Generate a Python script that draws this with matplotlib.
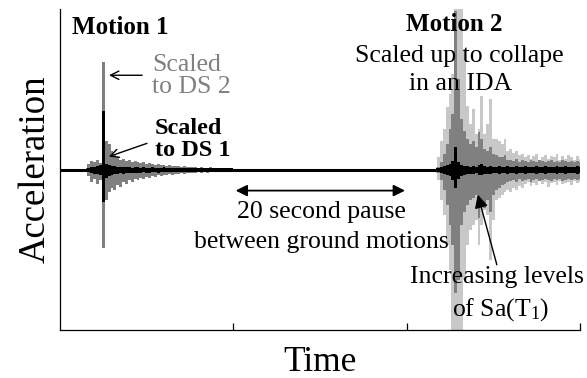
import numpy as np
import matplotlib
matplotlib.use("Agg")
import matplotlib.pyplot as plt

plt.rcParams['font.family'] = ['Liberation Serif', 'DejaVu Serif']
plt.rcParams['mathtext.fontset'] = 'custom'
plt.rcParams['mathtext.rm'] = 'Liberation Serif'
plt.rcParams['mathtext.it'] = 'Liberation Serif:italic'

# sampling of the envelope records (s)
dt = 0.5

# motion 1, starts at 4.5 s
m1_start = 4.5
m1_ds2_hi = [0.02, 0.06, 0.09, 0.08, 0.10, 0.07, 1.07, 0.28, 0.25, 0.18, 0.14, 0.12, 0.10,
             0.11, 0.09, 0.10, 0.08, 0.09, 0.08, 0.07, 0.08, 0.06, 0.07, 0.06, 0.05, 0.06,
             0.05, 0.05, 0.04, 0.05, 0.04, 0.04, 0.04, 0.03, 0.04, 0.03, 0.03,
             0.03, 0.03, 0.02, 0.03, 0.02, 0.02, 0.03, 0.02, 0.02, 0.02, 0.02, 0.02, 0.02,
             0.02, 0.01]
m1_ds2_lo = [-0.02, -0.06, -0.12, -0.09, -0.14, -0.10, -0.78, -0.30, -0.22, -0.18, -0.20,
             -0.15, -0.17, -0.12, -0.14, -0.10, -0.12, -0.09, -0.10, -0.08, -0.09, -0.07,
             -0.08, -0.06, -0.07, -0.05, -0.06, -0.05, -0.05, -0.04, -0.05, -0.04, -0.04,
             -0.03, -0.04, -0.03, -0.03,
             -0.03, -0.03, -0.02, -0.03, -0.02, -0.03, -0.02, -0.02, -0.02, -0.02, -0.02,
             -0.02, -0.02, -0.01, -0.01]
m1_ds1_hi = [0.01, 0.02, 0.03, 0.03, 0.04, 0.05, 0.58, 0.06, 0.05, 0.04, 0.04, 0.03,
             0.03, 0.03, 0.03, 0.03, 0.02, 0.03, 0.03, 0.02, 0.03, 0.02, 0.02, 0.03, 0.02,
             0.02, 0.02, 0.03, 0.02, 0.02, 0.02, 0.02, 0.02, 0.02, 0.02, 0.02, 0.02, 0.02,
             0.02, 0.02, 0.02, 0.02, 0.02, 0.02, 0.02, 0.02, 0.02, 0.02, 0.02, 0.02, 0.02,
             0.02]
m1_ds1_lo = [-0.01, -0.02, -0.03, -0.04, -0.04, -0.05, -0.32, -0.08, -0.06, -0.05, -0.04,
             -0.04, -0.03, -0.04, -0.03, -0.03, -0.03, -0.03, -0.03, -0.03, -0.02, -0.03,
             -0.03, -0.02, -0.02, -0.03, -0.02, -0.02, -0.02, -0.02, -0.02, -0.02, -0.02,
             -0.02, -0.02, -0.02, -0.02, -0.02, -0.02, -0.02, -0.02, -0.02, -0.02, -0.02,
             -0.02, -0.02, -0.02, -0.02, -0.02, -0.02, -0.02, -0.02]

# motion 2 (IDA), starts at 65 s
m2_start = 65.0
m2_high_hi = [0.03, 0.12, 0.28, 0.40, 0.62, 0.75, 0.95, 1.65, 1.65, 1.65, 1.20, 0.63, 0.45,
              0.60, 0.35, 0.40, 0.73, 0.35, 0.45, 0.70, 0.30, 0.30, 0.28, 0.25, 0.30, 0.18,
              0.20, 0.16, 0.18, 0.14, 0.15,
              0.12, 0.14, 0.11, 0.13, 0.15, 0.10, 0.12, 0.14, 0.11, 0.13, 0.12, 0.15, 0.10,
              0.13, 0.11, 0.14, 0.12, 0.10, 0.13, 0.11]
m2_high_lo = [-0.03, -0.10, -0.30, -0.45, -0.75, -1.00, -1.65, -1.65, -1.65, -1.65, -1.10,
              -0.75, -0.60, -0.55, -0.50, -0.75, -0.55, -0.40, -0.45, -0.90, -0.50, -0.30,
              -0.28, -0.25, -0.22, -0.20, -0.22, -0.18, -0.20, -0.16, -0.18,
              -0.14, -0.12, -0.16, -0.13, -0.15, -0.11, -0.14, -0.12, -0.17, -0.13, -0.12,
              -0.15, -0.11, -0.14, -0.13, -0.12, -0.15, -0.11, -0.13, -0.12]
m2_mid_hi = [0.00, 0.03, 0.08, 0.15, 0.25, 0.40, 0.55, 1.58, 0.90, 0.50, 0.38, 0.30, 0.25,
             0.28, 0.22, 0.37, 0.30, 0.20, 0.18, 0.22, 0.15, 0.14, 0.12, 0.12, 0.14, 0.10,
             0.10, 0.09, 0.11, 0.08, 0.10, 0.09, 0.08, 0.10, 0.09, 0.08, 0.10, 0.09, 0.08,
             0.09, 0.10, 0.08, 0.09, 0.08, 0.10, 0.09, 0.08, 0.09, 0.08, 0.09, 0.08]
m2_mid_lo = [0.00, -0.03, -0.10, -0.20, -0.35, -0.55, -0.75, -1.23, -1.10, -0.55, -0.42,
             -0.35, -0.30, -0.28, -0.25, -0.48, -0.30, -0.38, -0.30, -0.42, -0.25, -0.20,
             -0.18, -0.15, -0.14, -0.12,
             -0.11, -0.10, -0.12, -0.09, -0.11, -0.10, -0.09, -0.12, -0.10, -0.09, -0.11,
             -0.10, -0.09, -0.10, -0.11, -0.09, -0.10, -0.09, -0.11, -0.10, -0.09, -0.10,
             -0.09, -0.10, -0.09]
m2_low_hi = [0.02, 0.02, 0.03, 0.04, 0.05, 0.06, 0.09, 0.22, 0.08, 0.05, 0.04, 0.04, 0.03,
             0.04, 0.03, 0.05, 0.06, 0.04, 0.03, 0.04, 0.03,
             0.03, 0.04, 0.03, 0.03, 0.04, 0.03, 0.03, 0.04, 0.03, 0.03, 0.04, 0.03, 0.03,
             0.03, 0.04, 0.03, 0.03, 0.04, 0.03, 0.03, 0.03, 0.04, 0.03, 0.03, 0.04, 0.03,
             0.03, 0.03, 0.04, 0.03]
m2_low_lo = [-0.02, -0.02, -0.03, -0.04, -0.05, -0.06, -0.10, -0.18, -0.09, -0.06, -0.05,
             -0.04, -0.04, -0.04, -0.03, -0.05, -0.05, -0.04, -0.04, -0.04, -0.03,
             -0.03, -0.04, -0.03, -0.03, -0.04, -0.03, -0.03, -0.04, -0.03, -0.03, -0.04,
             -0.03, -0.03, -0.03, -0.04, -0.03, -0.03, -0.04, -0.03, -0.03, -0.03, -0.04,
             -0.03, -0.03, -0.04, -0.03, -0.03, -0.03, -0.04, -0.03]

t_end = 90
time_ticks = [30, 60, 90]

light = '#c8c8c8'
gray = '#808080'


def envelope(ax, start, hi, lo, color):
    t = start + dt * np.arange(len(hi))
    ax.fill_between(t, lo, hi, step='mid', color=color, lw=0)


fig = plt.figure(figsize=(5.87, 3.78), dpi=100)
ax = fig.add_axes([0.1022, 0.127, 0.886, 0.849])

envelope(ax, m1_start, m1_ds2_hi, m1_ds2_lo, gray)
envelope(ax, m1_start, m1_ds1_hi, m1_ds1_lo, 'black')
envelope(ax, m2_start, m2_high_hi, m2_high_lo, light)
envelope(ax, m2_start, m2_mid_hi, m2_mid_lo, gray)
envelope(ax, m2_start, m2_low_hi, m2_low_lo, 'black')
ax.axhline(0, color='black', lw=2.2)

ax.set_xlim(0, t_end)
ax.set_ylim(-1.6, 1.6)
ax.set_xticks(time_ticks)
ax.set_xticklabels([])
ax.set_yticks([])
ax.tick_params(axis='x', direction='in', length=5, width=0.9)
for s in ['top', 'right']:
    ax.spines[s].set_visible(False)
for s in ['left', 'bottom']:
    ax.spines[s].set_linewidth(0.9)

ax.set_xlabel('Time', fontsize=25.5, labelpad=8)
ax.set_ylabel('Acceleration', fontsize=26.5, labelpad=5)

# motion 1 labels
ax.text(2.1, 1.35, 'Motion 1', fontsize=18, fontweight='bold', va='baseline')
ax.text(15.9, 0.93, 'Scaled\nto DS 2', fontsize=18.5, color=gray, va='center',
        linespacing=1.0)
ax.text(16.4, 0.30, 'Scaled\nto DS 1', fontsize=17.5, fontweight='bold', va='center',
        linespacing=1.05)
ax.annotate('', xy=(8.0, 0.94), xytext=(14.7, 0.94),
            arrowprops=dict(arrowstyle='->', color='black', lw=1.0,
                            mutation_scale=15))
ax.annotate('', xy=(8.0, 0.12), xytext=(15.5, 0.27),
            arrowprops=dict(arrowstyle='->', color='black', lw=1.0,
                            mutation_scale=15))

# pause between the records
ax.annotate('', xy=(30.4, -0.21), xytext=(59.7, -0.21),
            arrowprops=dict(arrowstyle='<|-|>', color='black', lw=1.3,
                            mutation_scale=17, shrinkA=0, shrinkB=0))
ax.text(45.2, -0.42, '20 second pause', fontsize=18.5, ha='center', va='center')
ax.text(45.2, -0.72, 'between ground motions', fontsize=18.5, ha='center', va='center')

# motion 2 labels
ax.text(68.2, 1.45, 'Motion 2', fontsize=18, fontweight='bold', ha='center', va='center')
ax.text(69.1, 1.13, 'Scaled up to collape', fontsize=18.5, ha='center', va='center')
ax.text(69.4, 0.85, 'in an IDA', fontsize=18.5, ha='center', va='center')
ax.text(75.6, -1.07, 'Increasing levels', fontsize=18.5, ha='center', va='center')
ax.text(76.3, -1.40, r'of Sa(T$_1$)', fontsize=18.5, ha='center', va='center')
ax.annotate('', xy=(72.3, -0.25), xytext=(75.6, -0.95),
            arrowprops=dict(arrowstyle='-|>', color='black', lw=1.0,
                            mutation_scale=20, shrinkA=0, shrinkB=0))

fig.savefig('out.png', dpi=100)
